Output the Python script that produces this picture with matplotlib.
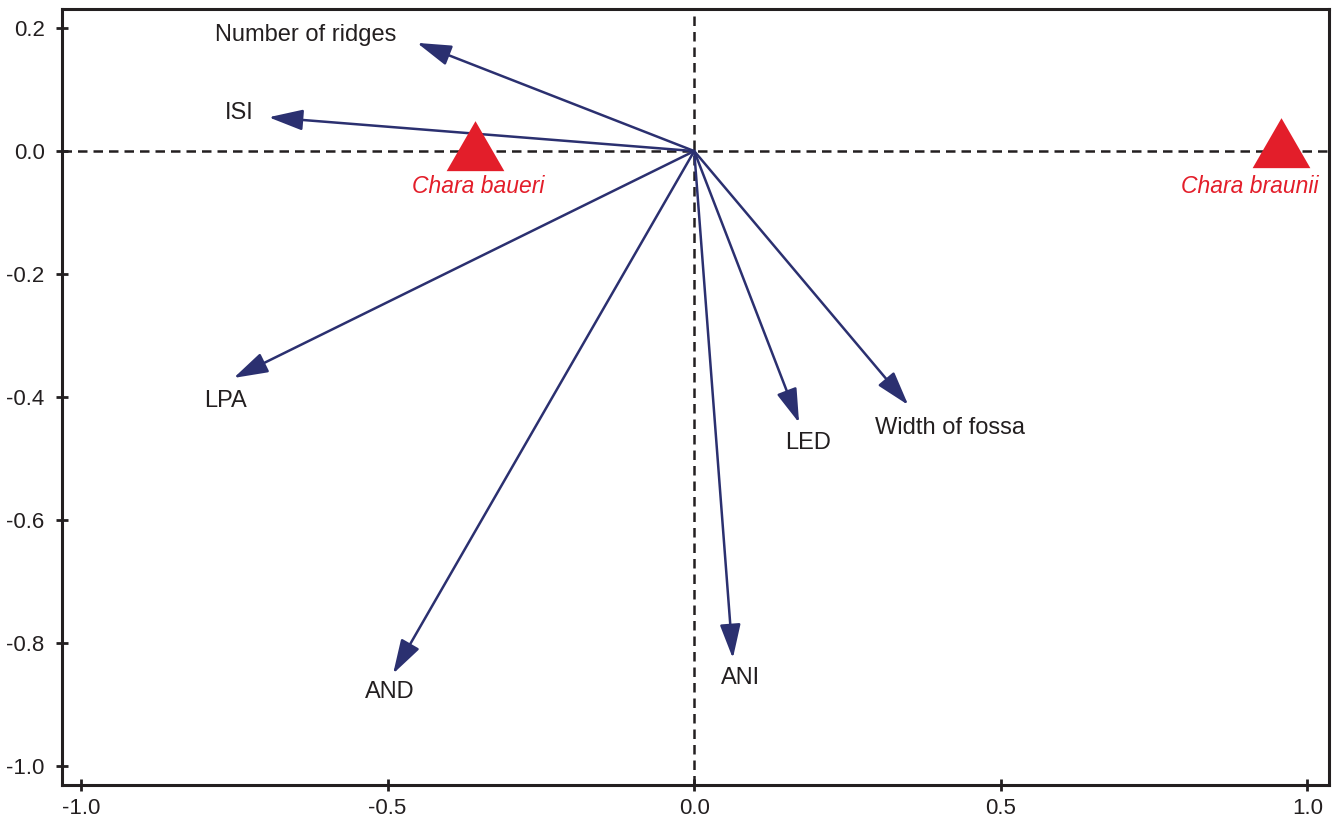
import numpy as np
import matplotlib
matplotlib.use("Agg")
import matplotlib.pyplot as plt
from matplotlib.path import Path

plt.rcParams['font.family'] = ['Liberation Sans', 'DejaVu Sans']

# variable vectors (arrow tips)
var_names = ["Number of ridges", "ISI", "LPA", "AND", "ANI", "LED", "Width of fossa"]
var_x = [-0.452, -0.694, -0.751, -0.491, 0.063, 0.171, 0.349]
var_y = [0.176, 0.055, -0.369, -0.850, -0.825, -0.442, -0.413]
# label positions for the variables
lab_x = [-0.634, -0.742, -0.765, -0.496, 0.075, 0.186, 0.417]
lab_y = [0.189, 0.062, -0.407, -0.880, -0.857, -0.475, -0.450]

# species scores
sp_names = ["Chara baueri", "Chara braunii"]
sp_x = [-0.357, 0.957]
sp_y = [-0.004, 0.0]
sp_lab_x = [-0.352, 0.906]
sp_lab_y = [-0.057, -0.057]

xticks = [-1.0, -0.5, 0.0, 0.5, 1.0]
yticks = [0.2, 0.0, -0.2, -0.4, -0.6, -0.8, -1.0]

navy = "#2b3070"
red = "#e31e2a"
ink = "#231f20"

fig = plt.figure(figsize=(13.41, 8.23), dpi=100)
ax = fig.add_axes([0.0462, 0.0462, 0.991 - 0.0462, 0.989 - 0.0462])

ax.axhline(0, color=ink, lw=1.8, ls=(0, (3.8, 2.4)), zorder=1)
ax.axvline(0, color=ink, lw=1.8, ls=(0, (3.8, 2.4)), zorder=1)

for x, y in zip(var_x, var_y):
    ax.annotate("", xy=(x, y), xytext=(0, 0),
                arrowprops=dict(arrowstyle="-|>,head_length=1.05,head_width=0.32",
                                mutation_scale=20, color=navy, lw=1.8,
                                shrinkA=0, shrinkB=0), zorder=3)
for name, x, y in zip(var_names, lab_x, lab_y):
    ax.text(x, y, name, fontsize=17, ha="center", va="center", color=ink)

# equilateral triangle marker centred on its centroid
tri = Path([(-1, -0.577), (1, -0.577), (0, 1.155), (-1, -0.577)],
           [Path.MOVETO, Path.LINETO, Path.LINETO, Path.CLOSEPOLY])
ax.plot(sp_x, sp_y, ls="none", marker=tri, markersize=48, color=red,
        markeredgewidth=0, zorder=4)
for name, x, y in zip(sp_names, sp_lab_x, sp_lab_y):
    ax.text(x, y, name, fontsize=16.5, ha="center", va="center", color=red,
            style="italic")

ax.set_xlim(-1.031, 1.035)
ax.set_ylim(-1.031, 0.231)
ax.set_xticks(xticks)
ax.set_yticks(yticks)
ax.set_xticklabels([f"{t:.1f}" for t in xticks])
ax.set_yticklabels([f"{t:.1f}" for t in yticks])
ax.tick_params(direction="inout", length=9, width=2, labelsize=16,
               colors=ink, pad=5)
ax.tick_params(axis="y", pad=8)
for s in ax.spines.values():
    s.set_linewidth(2.2)
    s.set_color(ink)

fig.savefig("out.png", dpi=100)
